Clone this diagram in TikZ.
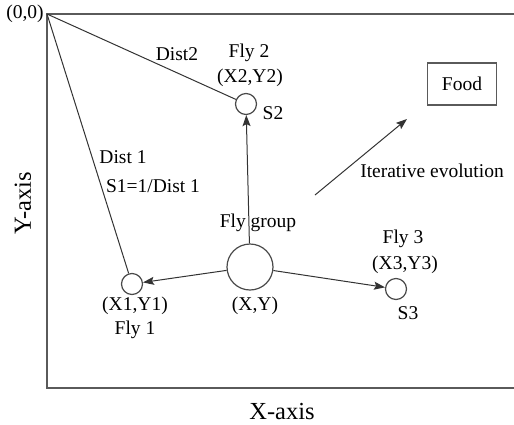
\documentclass[tikz,border=0pt]{standalone}
\usepackage{fontspec}
\setmainfont{Liberation Serif}
\usetikzlibrary{arrows.meta}
\definecolor{axisgray}{HTML}{5A5A5A}
\definecolor{linegray}{HTML}{333333}
\definecolor{circgray}{HTML}{4A4A4A}
\tikzset{
  lbl/.style={inner sep=0pt, font=\fontsize{19.5}{22}\selectfont},
  axislbl/.style={inner sep=0pt, font=\fontsize{24.5}{28}\selectfont},
  fly/.style={circle, draw=circgray, line width=1.2pt, fill=white, minimum size=21pt, inner sep=0pt},
  group/.style={circle, draw=circgray, line width=1.2pt, fill=white, minimum size=46pt, inner sep=0pt},
  conn/.style={draw=linegray, line width=1pt},
  arr/.style={conn, -{Stealth[length=11pt,width=8pt,inset=2pt]}},
  axisline/.style={draw=axisgray, line width=2pt},
  foodbox/.style={draw=axisgray, line width=1.5pt, minimum width=69pt, minimum height=42pt, inner sep=0pt, font=\fontsize{19.5}{22}\selectfont}
}
\begin{document}
\begin{tikzpicture}[x=1pt,y=-1pt]
\useasboundingbox (0,0) rectangle (514,424);
% axes frame
\coordinate (origin) at (47,14);
\coordinate (tr) at (514,14);
\coordinate (bl) at (47,388);
\coordinate (br) at (514,388);
\draw[axisline] (tr) -- (origin) -- (bl) -- (br);
\node[lbl] (olbl) at (25,14) {(0,0)};
\node[axislbl, rotate=90] (ylbl) at (23,203) {Y-axis};
\node[axislbl] (xlbl) at (282,411) {X-axis};
% flies
\node[fly] (f2) at (246,104) {};
\node[fly] (f1) at (132,284) {};
\node[fly] (f3) at (396,289) {};
\node[group] (g) at (250,267) {};
% food
\node[foodbox] (food) at (462,84) {Food};
% connectors
\draw[conn] (origin) -- (f2);
\draw[conn] (origin) -- (f1);
\draw[arr] (g) -- (f2);
\draw[arr] (g) -- (f1);
\draw[arr] (g) -- (f3);
\coordinate (evs) at (315,195);
\coordinate (eve) at (407,119);
\draw[arr] (evs) -- (eve);
% labels
\node[lbl] (d2) at (177,54) {Dist2};
\node[lbl] (fl2) at (249,53) {Fly 2};
\node[lbl] (xy2) at (250,78) {(X2,Y2)};
\node[lbl] (s2) at (273,113) {S2};
\node[lbl] (d1) at (123,157) {Dist 1};
\node[lbl] (s1) at (153,186) {S1=1/Dist 1};
\node[lbl] (fg) at (258,223) {Fly group};
\node[lbl] (xy) at (255,306) {(X,Y)};
\node[lbl] (xy1) at (135,306) {(X1,Y1)};
\node[lbl] (fl1) at (135,330) {Fly 1};
\node[lbl] (fl3) at (403,239) {Fly 3};
\node[lbl] (xy3) at (405,265) {(X3,Y3)};
\node[lbl] (s3) at (408,313) {S3};
\node[lbl] (ie) at (432,171) {Iterative evolution};
\end{tikzpicture}
\end{document}
